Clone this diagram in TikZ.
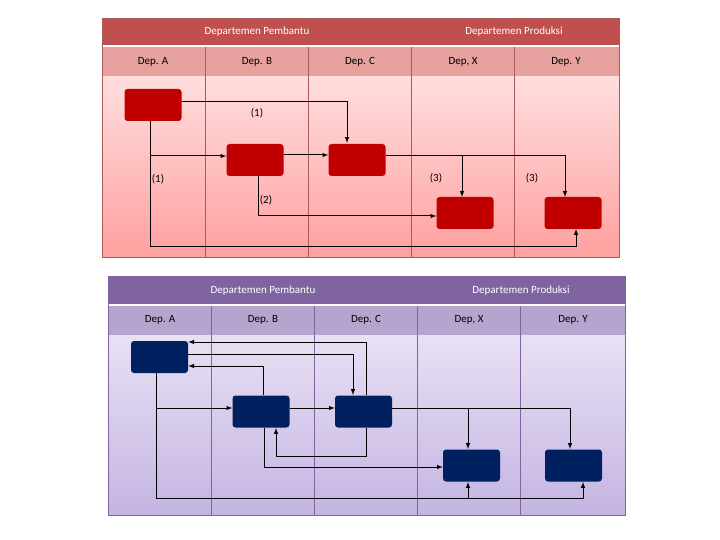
\documentclass[tikz,border=0pt]{standalone}
\usepackage{fontspec}
\setmainfont{Carlito}
\definecolor{rtop}{RGB}{255,222,222}
\definecolor{rbot}{RGB}{255,160,160}
\definecolor{rhd}{RGB}{192,80,77}
\definecolor{rsub}{RGB}{230,160,158}
\definecolor{rgrid}{RGB}{170,90,90}
\definecolor{rfill}{RGB}{192,0,0}
\definecolor{btop}{RGB}{232,224,244}
\definecolor{bbot}{RGB}{196,180,226}
\definecolor{bhd}{RGB}{128,100,162}
\definecolor{bsub}{RGB}{181,164,206}
\definecolor{bfill}{RGB}{0,32,96}
\begin{document}
\begin{tikzpicture}[x=1pt,y=-1pt,
 lbl/.style={font=\fontsize{11}{13}\selectfont},
 hd/.style={font=\fontsize{11}{13}\selectfont,text=white},
 rbox/.style={fill=rfill,rounded corners=3pt,minimum width=57pt,minimum height=32pt,inner sep=0pt},
 bbox/.style={fill=bfill,rounded corners=3pt,minimum width=57pt,minimum height=32pt,inner sep=0pt},
 ar/.style={-latex,line width=1pt},
 ln/.style={line width=1pt}]
\useasboundingbox (0,0) rectangle (720,540);
% top panel
\fill[top color=rtop,bottom color=rbot] (102,76) rectangle (619,257);
\fill[rhd] (102,18) rectangle (619,46);
\fill[rsub] (102,46) rectangle (619,76);
\draw[white,line width=1.5pt] (102,46)--(619,46);
\foreach \x in {205,308,411,514} \draw[rgrid] (\x,47)--(\x,257);
\draw[rgrid] (102,18) rectangle (619,257);
\node[hd] (th1) at (257,32) {Departemen Pembantu};
\node[hd] (th2) at (514,32) {Departemen Produksi};
\foreach \t/\x in {Dep. A/153, Dep. B/257, Dep. C/360, {Dep, X}/463, Dep. Y/566} \node[lbl] at (\x,62) {\t};
\node[rbox] (ra) at (153,105) {};
\node[rbox] (rb) at (255,160) {};
\node[rbox] (rc) at (357,160) {};
\node[rbox] (rx) at (465,213) {};
\node[rbox] (ry) at (573,213) {};
\draw[ar] (ra.east |- 0,102) -- (347,102) -- (347,143);
\draw[ln] (150,121) -- (150,246);
\draw[ar] (150,156) -- (rb.west |- 0,156);
\draw[ar] (150,246) -- (576,246) -- (576,229);
\draw[ar] (rb.east |- 0,155) -- (rc.west |- 0,155);
\draw[ar] (258,176) -- (258,216) -- (rx.west |- 0,216);
\draw[ar] (rc.east |- 0,156) -- (462,156) -- (462,197);
\draw[ar] (462,156) -- (565,156) -- (565,197);
\node[lbl] at (257,113) {(1)};
\node[lbl] at (158,179) {(1)};
\node[lbl] at (266,200) {(2)};
\node[lbl] at (436,178) {(3)};
\node[lbl] at (532,178) {(3)};
% bottom panel
\fill[top color=btop,bottom color=bbot] (108,335) rectangle (625,515);
\fill[bhd] (108,276) rectangle (625,305);
\fill[bsub] (108,305) rectangle (625,335);
\draw[white,line width=1.5pt] (108,305)--(625,305);
\foreach \x in {211,314,417,520} \draw[bhd] (\x,306)--(\x,515);
\draw[bhd] (108,276) rectangle (625,515);
\node[hd] (bh1) at (263,291) {Departemen Pembantu};
\node[hd] (bh2) at (521,291) {Departemen Produksi};
\foreach \t/\x in {Dep. A/160, Dep. B/263, Dep. C/366, {Dep, X}/469, Dep. Y/573} \node[lbl] at (\x,320) {\t};
\node[bbox] (ba) at (159.5,357) {};
\node[bbox] (bb) at (261,411.5) {};
\node[bbox] (bc) at (363.5,411.5) {};
\node[bbox] (bx) at (471.5,465.5) {};
\node[bbox] (by) at (573.5,465.5) {};
\draw[ar] (366,395) -- (366,342) -- (ba.east |- 0,342);
\draw[ar] (ba.east |- 0,354) -- (353,354) -- (353,395);
\draw[ar] (263,395) -- (263,366) -- (ba.east |- 0,366);
\draw[ln] (156,373) -- (156,498);
\draw[ar] (156,408) -- (bb.west |- 0,408);
\draw[ar] (156,498) -- (583,498) -- (583,482);
\draw[ar] (468,498) -- (468,482);
\draw[ar] (bb.east |- 0,408) -- (bc.west |- 0,408);
\draw[ar] (bc.east |- 0,408) -- (468,408) -- (468,449);
\draw[ar] (468,408) -- (570,408) -- (570,449);
\draw[ar] (366,428) -- (366,456) -- (276,456) -- (276,428);
\draw[ar] (264,428) -- (264,467) -- (bx.west |- 0,467);
\end{tikzpicture}
\end{document}
